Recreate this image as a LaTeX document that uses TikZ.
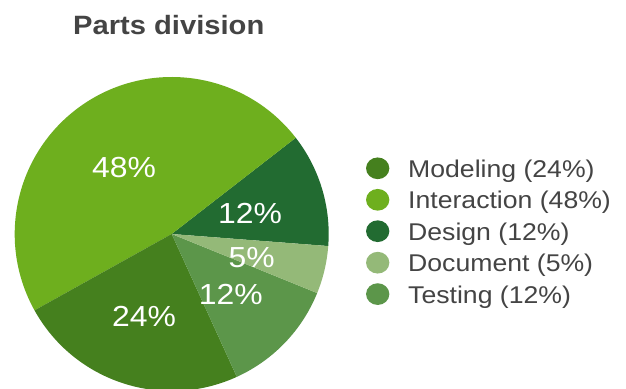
\documentclass[tikz,border=0pt]{standalone}
\usepackage{fontspec}
\setmainfont{Liberation Sans}
\usetikzlibrary{shapes.geometric}
\definecolor{cModel}{RGB}{69,128,30}
\definecolor{cInter}{RGB}{110,175,30}
\definecolor{cDesign}{RGB}{34,107,49}
\definecolor{cDoc}{RGB}{148,185,120}
\definecolor{cTest}{RGB}{92,150,74}
\definecolor{txtgray}{RGB}{68,68,68}
\newcommand{\wx}[1]{\scalebox{1.1}[1]{#1}}
\begin{document}
\begin{tikzpicture}[x=1pt,y=1pt,
  pielabel/.style={anchor=base,inner sep=0pt,text=white,font=\fontsize{29}{32}\selectfont},
  legtext/.style={anchor=base west,inner sep=0pt,text=txtgray,font=\fontsize{24.2}{28}\selectfont},
  legdot/.style={ellipse,inner sep=0pt,minimum width=23.3pt,minimum height=21.7pt,draw=none}]
\useasboundingbox (0,0) rectangle (626,388);
\fill[white] (0,0) rectangle (626,388);
\coordinate (c) at (171.7,154);
\def\R{157}
\fill[cDesign] (c) -- ++(-4.4:\R) arc[start angle=-4.4,end angle=37.8,radius=\R] -- cycle;
\fill[cInter] (c) -- ++(37.8:\R) arc[start angle=37.8,end angle=209.1,radius=\R] -- cycle;
\fill[cModel] (c) -- ++(209.1:\R) arc[start angle=209.1,end angle=294.5,radius=\R] -- cycle;
\fill[cTest] (c) -- ++(294.5:\R) arc[start angle=294.5,end angle=337.9,radius=\R] -- cycle;
\fill[cDoc] (c) -- ++(337.9:\R) arc[start angle=337.9,end angle=355.6,radius=\R] -- cycle;
\node[pielabel] (l48) at (124,210.7) {\wx{48\%}};
\node[pielabel] (l12a) at (250,164) {\wx{12\%}};
\node[pielabel] (l5) at (251.7,120.7) {\wx{5\%}};
\node[pielabel] (l12b) at (230.8,83) {\wx{12\%}};
\node[pielabel] (l24) at (144,61.3) {\wx{24\%}};
\node[anchor=base west,inner sep=0pt,text=txtgray,font=\fontsize{26.5}{30}\selectfont\bfseries] (title) at (73,353) {\wx{Parts division}};
\node[legdot,fill=cModel] (d1) at (377.7,219.7) {};
\node[legdot,fill=cInter] (d2) at (377.7,188.2) {};
\node[legdot,fill=cDesign] (d3) at (377.7,156.8) {};
\node[legdot,fill=cDoc] (d4) at (377.7,125.3) {};
\node[legdot,fill=cTest] (d5) at (377.7,93.9) {};
\node[legtext] (t1) at (408,210.7) {\wx{Modeling (24\%)}};
\node[legtext] (t2) at (408,179.2) {\wx{Interaction (48\%)}};
\node[legtext] (t3) at (408,147.7) {\wx{Design (12\%)}};
\node[legtext] (t4) at (408,116.2) {\wx{Document (5\%)}};
\node[legtext] (t5) at (408,84.7) {\wx{Testing (12\%)}};
\end{tikzpicture}
\end{document}
